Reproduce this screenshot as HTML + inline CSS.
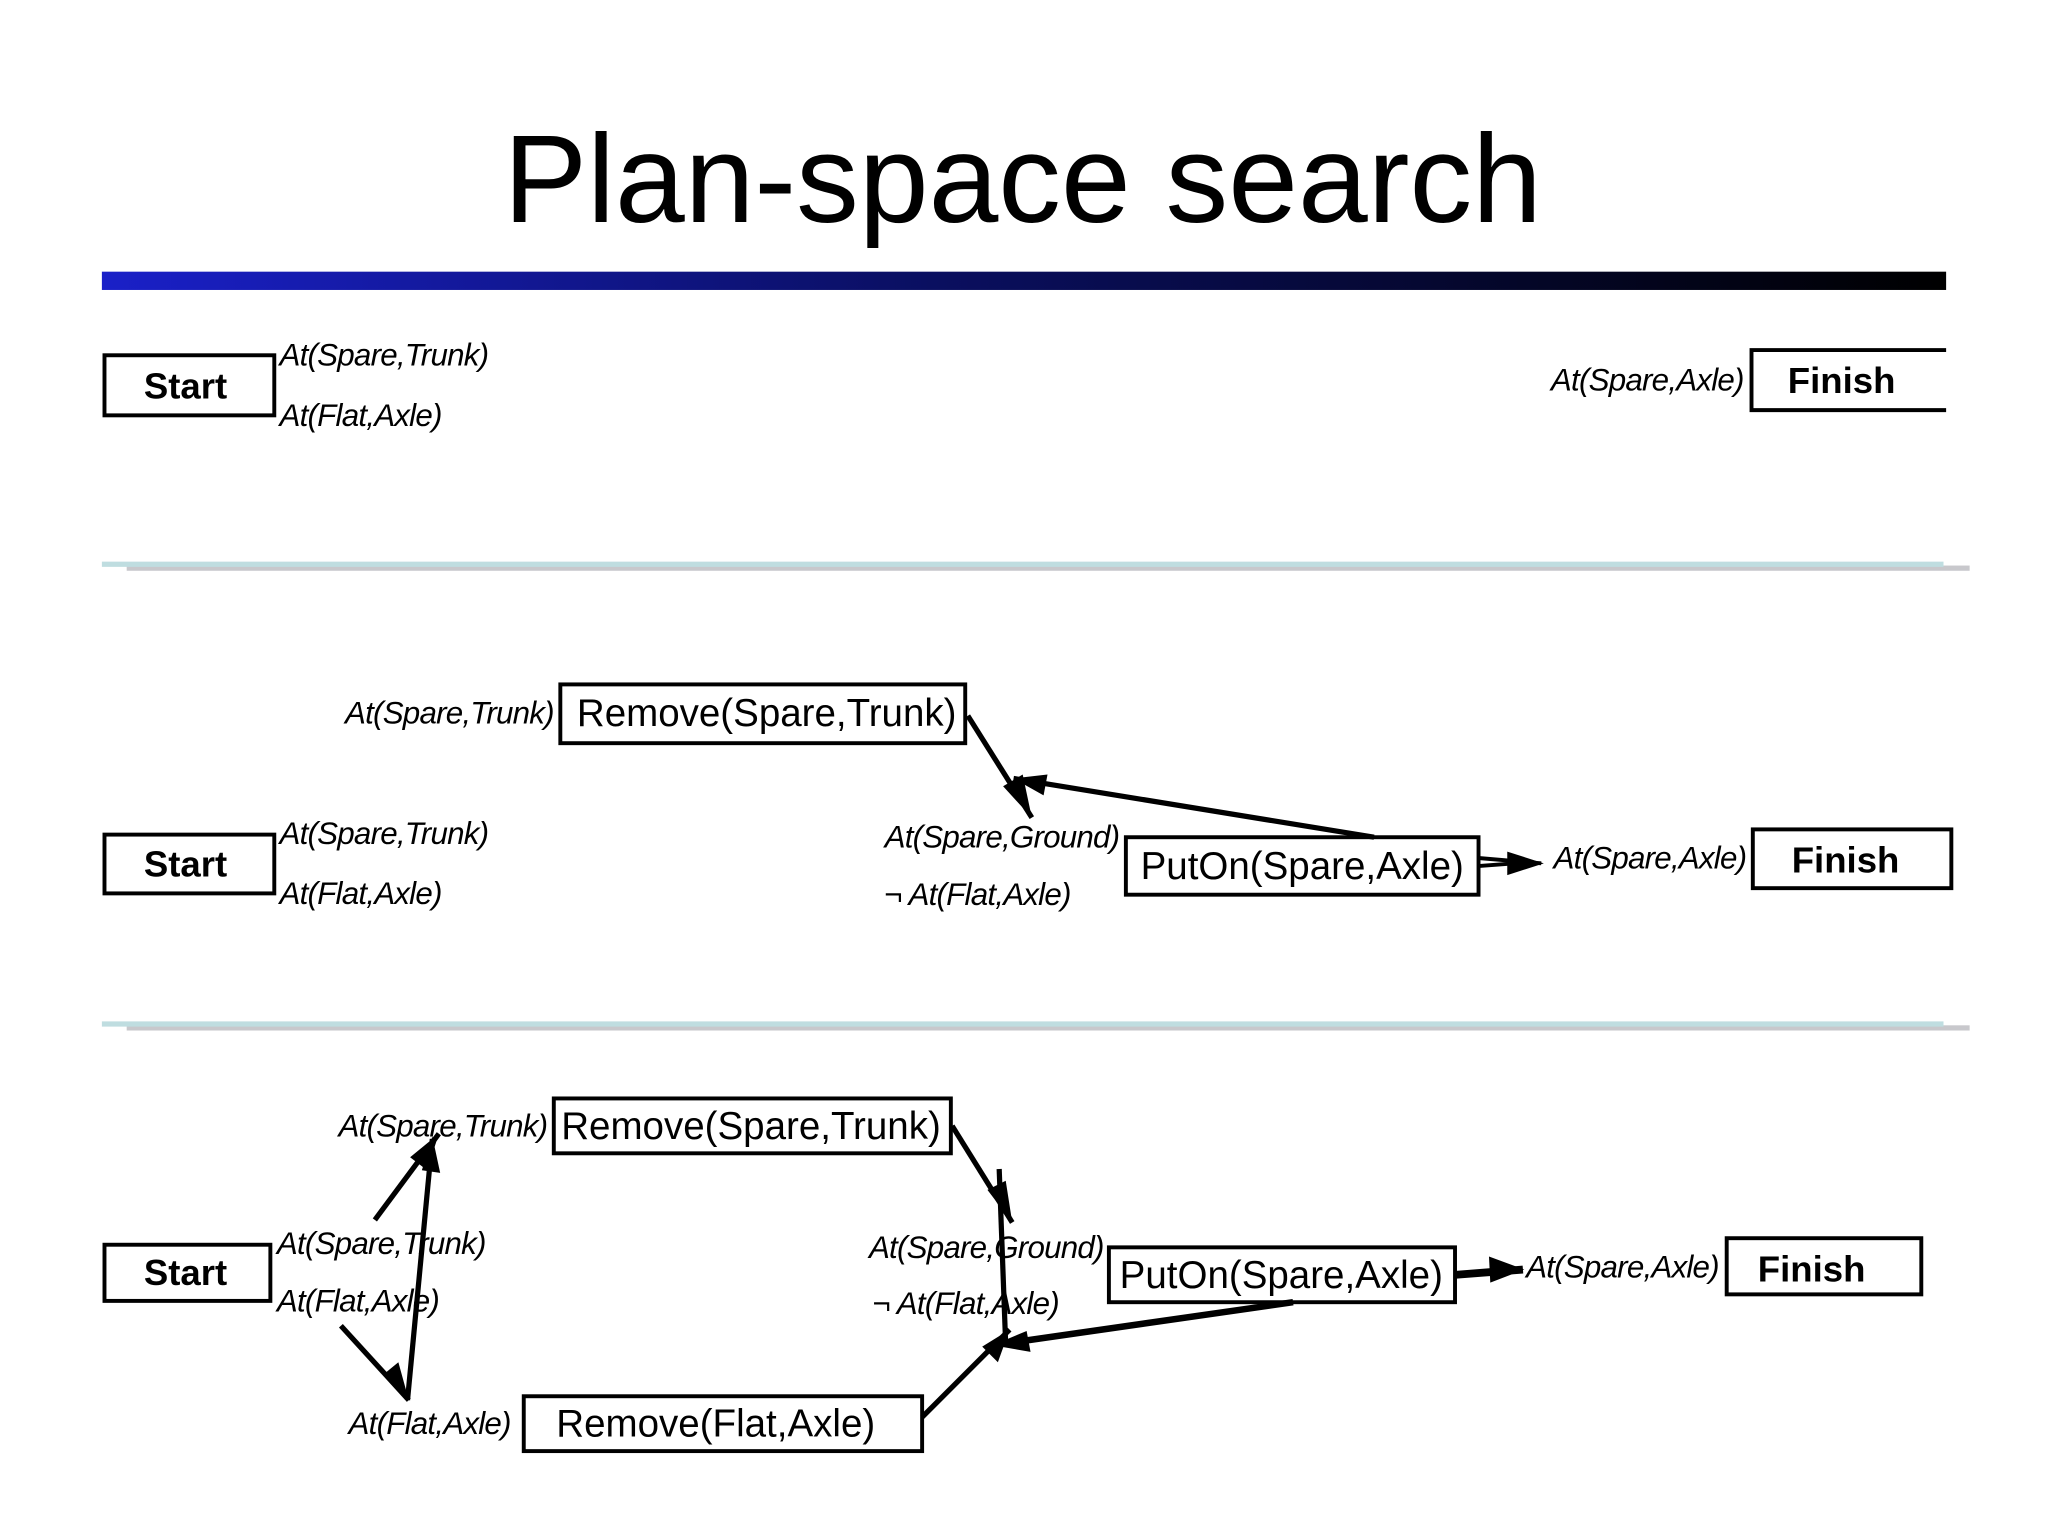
<!DOCTYPE html>
<html><head><meta charset="utf-8"><style>
html,body{margin:0;padding:0;background:#fff;width:2048px;height:1536px;overflow:hidden}
svg text{font-family:"Liberation Sans",sans-serif}
.l{font-style:italic;font-size:24px;letter-spacing:-0.6px}
.b{font-weight:bold;font-size:28px}
.a{font-size:29.5px}
</style></head><body>
<svg id="s" width="2048" height="1536" viewBox="0 0 1568 1176" xmlns="http://www.w3.org/2000/svg">
<defs>
<linearGradient id="g" x1="0" x2="1" y1="0" y2="0"><stop offset="0" stop-color="#1a20c8"/><stop offset="0.45" stop-color="#0a0f60"/><stop offset="1" stop-color="#000"/></linearGradient>
</defs>
<text x="783" y="170" text-anchor="middle" font-size="96">Plan-space search</text>
<rect x="78" y="208" width="1412" height="14" fill="url(#g)"/>
<rect x="97" y="433" width="1411" height="4" fill="#c8c8cc"/>
<rect x="78" y="430" width="1410" height="4" fill="#bfdde0"/>
<rect x="97" y="785" width="1411" height="4" fill="#c8c8cc"/>
<rect x="78" y="782" width="1410" height="4" fill="#bfdde0"/>
<g fill="none" stroke="#000" stroke-width="3">
<rect x="80" y="272" width="130" height="46"/>
<path d="M1490,268 H1341 V314 H1490"/>
<rect x="429" y="524" width="310" height="45"/>
<rect x="80" y="639" width="130" height="45"/>
<rect x="862" y="641" width="270" height="44"/>
<rect x="1342" y="635" width="152" height="45"/>
<rect x="424" y="841" width="304" height="42"/>
<rect x="80" y="953" width="127" height="43"/>
<rect x="849" y="955" width="265" height="42"/>
<rect x="1322" y="948" width="149" height="43"/>
<rect x="401" y="1069" width="305" height="42"/>
</g>
<g id="arr" stroke="#000" fill="#000" stroke-width="4">
<line x1="741" y1="548" x2="790" y2="626"/>
<line x1="1052" y1="641" x2="776" y2="596"/>
<line x1="1133" y1="657" x2="1180" y2="661" stroke-width="3"/>
<line x1="1133" y1="663" x2="1160" y2="661" stroke-width="3"/>
<line x1="287" y1="934" x2="336" y2="868"/>
<line x1="312" y1="1072" x2="331" y2="872"/>
<line x1="261" y1="1015" x2="313" y2="1072"/>
<line x1="729" y1="862" x2="775" y2="936"/>
<line x1="765" y1="895" x2="770" y2="1030"/>
<line x1="706" y1="1085" x2="773" y2="1018"/>
<line x1="990" y1="997" x2="760" y2="1030" stroke-width="5"/>
<line x1="1115" y1="976" x2="1166" y2="972" stroke-width="6"/>
</g>
<g fill="#000">
<polygon points="790,626 768,602 783,593"/>
<polygon points="776,596 802,593 799,609"/>
<polygon points="1182,661 1154,652 1154,670"/>
<polygon points="336,868 327,896 314,886"/>
<polygon points="331,870 337,898 323,896"/>
<polygon points="313,1072 294,1052 305,1043"/>
<polygon points="775,936 756,911 770,904"/>
<polygon points="773,1018 764,1043 752,1031"/>
<polygon points="760,1030 786,1019 789,1035"/>
<polygon points="1167,972 1140,962 1141,982"/>
</g>
<g>
<text x="142" y="305" text-anchor="middle" class="b">Start</text>
<text x="214" y="280" class="l">At(Spare,Trunk)</text>
<text x="214" y="326" class="l">At(Flat,Axle)</text>
<text x="1335" y="299" text-anchor="end" class="l">At(Spare,Axle)</text>
<text x="1410" y="301" text-anchor="middle" class="b">Finish</text>

<text x="424" y="554" text-anchor="end" class="l">At(Spare,Trunk)</text>
<text x="587" y="556" text-anchor="middle" class="a">Remove(Spare,Trunk)</text>
<text x="142" y="671" text-anchor="middle" class="b">Start</text>
<text x="214" y="646" class="l">At(Spare,Trunk)</text>
<text x="214" y="692" class="l">At(Flat,Axle)</text>
<text x="857" y="649" text-anchor="end" class="l">At(Spare,Ground)</text>
<text x="677" y="693" class="l">¬ At(Flat,Axle)</text>
<text x="997" y="673" text-anchor="middle" class="a">PutOn(Spare,Axle)</text>
<text x="1337" y="665" text-anchor="end" class="l">At(Spare,Axle)</text>
<text x="1413" y="668" text-anchor="middle" class="b">Finish</text>

<text x="419" y="870" text-anchor="end" class="l">At(Spare,Trunk)</text>
<text x="575" y="872" text-anchor="middle" class="a">Remove(Spare,Trunk)</text>
<text x="142" y="984" text-anchor="middle" class="b">Start</text>
<text x="212" y="960" class="l">At(Spare,Trunk)</text>
<text x="212" y="1004" class="l">At(Flat,Axle)</text>
<text x="845" y="963" text-anchor="end" class="l">At(Spare,Ground)</text>
<text x="668" y="1006" class="l">¬ At(Flat,Axle)</text>
<text x="981" y="986" text-anchor="middle" class="a">PutOn(Spare,Axle)</text>
<text x="1316" y="978" text-anchor="end" class="l">At(Spare,Axle)</text>
<text x="1387" y="981" text-anchor="middle" class="b">Finish</text>
<text x="391" y="1098" text-anchor="end" class="l">At(Flat,Axle)</text>
<text x="548" y="1100" text-anchor="middle" class="a">Remove(Flat,Axle)</text>
</g>
</svg>
</body></html>
